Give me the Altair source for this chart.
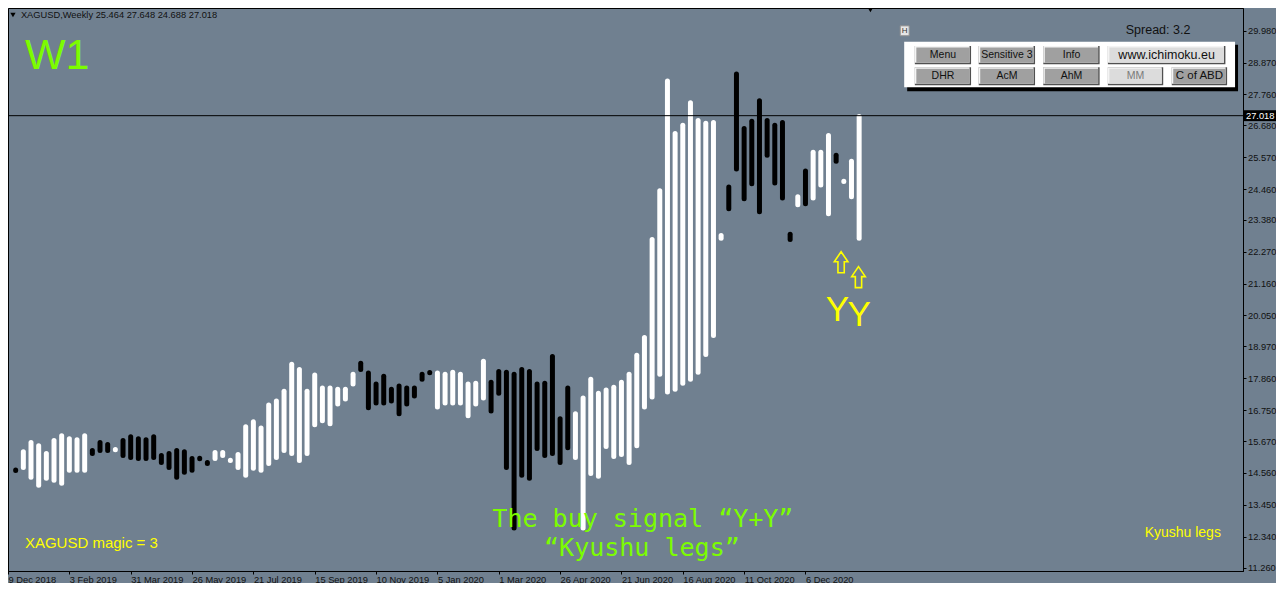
import altair as alt
import pandas as pd
from datetime import date

# ---------------- data ----------------
first_week = "2018-12-16"
n_weeks = 111
weeks = pd.date_range(first_week, periods=n_weeks, freq="7D").strftime("%Y-%m-%d").tolist()

ha_open = [
    14.66, 14.75, 14.41, 14.13, 14.37, 14.30, 14.20, 14.65, 14.65, 14.65,
    15.34, 15.62, 15.55, 15.37, 15.69, 15.82, 15.75, 15.72, 15.82, 15.17,
    15.24, 15.34, 15.30, 15.06, 15.07, 14.92, 15.06, 15.17, 14.99, 14.75,
    14.48, 14.72, 14.65, 14.89, 15.10, 15.34, 15.24, 14.99, 15.24, 16.24,
    16.38, 16.27, 16.96, 17.14, 17.66, 18.38, 18.04, 17.66, 17.93, 17.48,
    17.59, 17.52, 17.52, 18.00, 18.06, 16.86, 17.00, 17.00, 17.00, 16.55,
    16.96, 17.17, 17.72, 18.10, 18.07, 18.00, 18.17, 18.10, 17.66, 17.69,
    18.62, 16.45, 17.52, 15.10, 12.64, 14.54, 14.44, 15.48, 15.13, 15.20,
    14.92, 15.51, 16.86, 17.21, 18.00, 17.38, 17.48, 17.69, 17.83, 18.07,
    18.69, 19.35, 22.74, 24.53, 28.47, 26.57, 26.82, 27.54, 26.85, 26.68,
    26.78, 22.88, 23.91, 25.09, 24.15, 24.60, 23.60, 25.64, 24.72, 24.19,
    22.74,
]
ha_close = [
    14.64, 15.30, 15.62, 15.51, 15.24, 15.69, 15.86, 15.75, 15.72, 15.86,
    15.24, 15.34, 15.34, 15.38, 15.17, 15.10, 15.06, 15.06, 15.10, 14.92,
    14.75, 14.41, 14.58, 14.65, 15.05, 14.89, 15.27, 15.27, 15.00, 15.20,
    16.17, 16.34, 16.13, 16.93, 17.07, 17.41, 18.35, 18.17, 17.41, 17.97,
    17.52, 17.52, 17.48, 17.48, 18.00, 18.17, 16.83, 17.00, 17.00, 17.07,
    16.62, 16.96, 17.24, 17.83, 18.05, 18.04, 18.00, 18.07, 18.00, 17.66,
    17.69, 18.45, 16.72, 17.34, 14.75, 12.64, 14.48, 14.37, 15.41, 15.17,
    15.24, 14.92, 15.44, 16.62, 17.17, 17.83, 17.34, 17.45, 17.55, 17.72,
    18.00, 18.66, 19.28, 22.70, 24.40, 28.23, 26.40, 26.68, 27.47, 26.85,
    26.75, 26.78, 22.84, 23.77, 25.16, 24.12, 24.64, 23.67, 25.64, 24.67,
    24.15, 22.70, 24.19, 23.95, 25.74, 25.74, 26.33, 25.43, 24.73, 25.43,
    26.99,
]
last_price = [27.018]

date_ticks = ["2018-12-09", "2019-02-03", "2019-03-31", "2019-05-26", "2019-07-21",
              "2019-09-15", "2019-11-10", "2020-01-05", "2020-03-01", "2020-04-26",
              "2020-06-21", "2020-08-16", "2020-10-11", "2020-12-06"]
price_ticks = [29.98, 28.87, 27.76, 26.68, 25.57, 24.46, 23.38, 22.27, 21.16,
               20.05, 18.97, 17.86, 16.75, 15.67, 14.56, 13.45, 12.34, 11.26]

header_text = "XAGUSD,Weekly  25.464 27.648 24.688 27.018"

btn_labels = ["Menu", "Sensitive 3", "Info", "www.ichimoku.eu",
              "DHR", "AcM", "AhM", "MM", "C of ABD"]

# ---------------- layout / style ----------------
W, H = 1235, 563
SX, SY = W / 1243.0, H / 568.0      # layout constants below are in a 1243x568 frame
BG = "#708090"
GREEN = "#7CFC00"
YELLOW = "#FFFF00"


def PX(v):
    return v * SX


def PY(v):
    return v * SY


def dt(s, hours=0):
    d = date.fromisoformat(s)
    return alt.DateTime(year=d.year, month=d.month, date=d.day, hours=hours, utc=True)


x_scale = alt.Scale(type="utc", domain=[dt("2018-12-09"), dt("2022-01-09", 10)])
y_scale = alt.Scale(domain=[11.139, 30.773], nice=False, zero=False)

df = pd.DataFrame({"week": weeks, "open": ha_open, "close": ha_close})
df["dir"] = ["up" if c >= o else "down" for o, c in zip(ha_open, ha_close)]

one = pd.DataFrame({"a": [0]})

x_axis = alt.Axis(values=[dt(s) for s in date_ticks], format="%-d %b %Y",
                  labelAlign="left", labelBaseline="top", labelPadding=1,
                  labelFlush=False, labelOverlap=False, tickSize=3,
                  tickColor="black", domainColor="black", labelColor="#111111",
                  labelFont="Liberation Sans", labelFontSize=9.3, grid=False, title=None)
y_axis = alt.Axis(orient="right", values=price_ticks, format=".3f",
                  labelPadding=1.5, labelFlush=False, labelOverlap=False, tickSize=3,
                  tickColor="black", domainColor="black", labelColor="#111111",
                  labelFont="Liberation Sans", labelFontSize=9.3, grid=False, title=None)

last_df = pd.DataFrame({"price": last_price})

bars = alt.Chart(df).mark_rule(strokeWidth=5, strokeCap="round").encode(
    x=alt.X("week:T", scale=x_scale, axis=x_axis),
    y=alt.Y("open:Q", scale=y_scale, axis=y_axis),
    y2="close:Q",
    color=alt.Color("dir:N", scale=alt.Scale(domain=["up", "down"], range=["white", "black"]), legend=None),
)

hline = alt.Chart(last_df).mark_rule(color="black", strokeWidth=1).encode(
    y=alt.Y("price:Q", scale=y_scale, axis=y_axis))


def txt(s, x, y, size, color, font="Liberation Sans", align="left", baseline="alphabetic"):
    return alt.Chart(one).mark_text(text=s, align=align, baseline=baseline, fontSize=size,
                                    font=font, color=color).encode(x=alt.value(PX(x)), y=alt.value(PY(y)))


def box(x0, x1, y0, y1, color, stroke=None):
    kw = dict(color=color)
    if stroke:
        kw.update(stroke=stroke, strokeWidth=1)
    return alt.Chart(one).mark_rect(**kw).encode(
        x=alt.value(PX(x0)), x2=alt.value(PX(x1)), y=alt.value(PY(y0)), y2=alt.value(PY(y1)))


arrow_path = "M0,-1L0.65,-0.05L0.3,-0.05L0.3,1L-0.3,1L-0.3,-0.05L-0.65,-0.05Z"


def arrow(x, y):
    return alt.Chart(one).mark_point(shape=arrow_path, size=441, filled=False, color=YELLOW,
                                     strokeWidth=1.6, opacity=1).encode(x=alt.value(PX(x)), y=alt.value(PY(y)))


layers = [bars, hline]

# header
layers.append(alt.Chart(one).mark_point(shape="triangle-down", size=28, filled=True, color="black",
                                        opacity=1).encode(x=alt.value(PX(5)), y=alt.value(PY(7))))
layers.append(txt(header_text, 13, 7, 9.3, "#111111", baseline="middle"))
layers.append(alt.Chart(one).mark_point(shape="triangle-down", size=30, filled=True, color="black",
                                        opacity=1).encode(x=alt.value(PX(868)), y=alt.value(2)))
layers.append(txt("W1", 17, 62, 43, GREEN))

# annotations
layers.append(txt("The buy signal \u201cY+Y\u201d", 639, 524, 25, GREEN, font="DejaVu Sans Mono", align="center"))
layers.append(txt("\u201cKyushu legs\u201d", 638, 553, 25, GREEN, font="DejaVu Sans Mono", align="center"))
layers.append(txt("XAGUSD  magic = 3", 17, 545, 15, YELLOW))
layers.append(txt("Kyushu legs", 1144, 534, 14, YELLOW))
layers.append(arrow(838.5, 256.5))
layers.append(arrow(856, 271.5))
layers.append(txt("Y", 823, 316, 35, YELLOW))
layers.append(txt("Y", 845, 321, 35, YELLOW))

# panel
layers.append(txt("Spread: 3.2", 1125, 26, 12.5, "#111111"))
layers.append(box(898, 907, 18, 28, "#E6E6E6", stroke="#909090"))
layers.append(txt("H", 902.5, 23.5, 8, "#333333", align="center", baseline="middle"))
layers.append(box(905, 1238, 37, 84, "#000000"))
layers.append(box(902, 1235, 34, 80, "#FFFFFF"))

bx0 = [912.7, 977.0, 1042.0, 1107.0, 912.7, 977.0, 1042.0, 1107.0, 1171.3]
bx1 = [969.3, 1033.7, 1098.7, 1225.3, 969.3, 1033.7, 1098.7, 1162.7, 1227.0]
by0 = [38.3] * 4 + [59.7] * 5
by1 = [56.7] * 4 + [78.0] * 5
bfill = ["#A0A0A0", "#A0A0A0", "#A0A0A0", "#DCDCDC", "#A0A0A0", "#A0A0A0", "#A0A0A0", "#DCDCDC", "#A0A0A0"]
btext = ["#111111"] * 7 + ["#7A7A7A", "#111111"]
bsize = [10.5, 10.5, 10.5, 12.5, 10.5, 10.5, 10.5, 10.5, 11.5]
bdf = pd.DataFrame({"label": btn_labels,
                    "x0": [PX(v) for v in bx0], "x1": [PX(v) for v in bx1],
                    "y0": [PY(v) for v in by0], "y1": [PY(v) for v in by1],
                    "fill": bfill, "tc": btext, "fs": bsize})

px = lambda f: alt.X(f, type="quantitative", scale=None, axis=None)
py = lambda f: alt.Y(f, type="quantitative", scale=None, axis=None)

b_dark = alt.Chart(bdf).mark_rect(color="#505050").encode(x=px("x0"), x2="x1", y=py("y0"), y2="y1")
b_light = alt.Chart(bdf).transform_calculate(
    xa="datum.x1 - 1.5", ya="datum.y1 - 1.5").mark_rect(color="#F4F4F4").encode(
    x=px("x0"), x2="xa:Q", y=py("y0"), y2="ya:Q")
b_face = alt.Chart(bdf).transform_calculate(
    xa="datum.x0 + 1.5", xb="datum.x1 - 1.5", ya="datum.y0 + 1.5", yb="datum.y1 - 1.5").mark_rect().encode(
    x=px("xa"), x2="xb:Q", y=py("ya"), y2="yb:Q", color=alt.Color("fill:N", scale=None))
b_text = alt.Chart(bdf).transform_calculate(
    xm="(datum.x0 + datum.x1) / 2", ym="(datum.y0 + datum.y1) / 2").mark_text(
    font="Liberation Sans", baseline="middle", align="center").encode(
    x=px("xm"), y=py("ym"), text="label:N", color=alt.Color("tc:N", scale=None),
    size=alt.Size("fs:Q", scale=None))
layers += [b_dark, b_light, b_face, b_text]

# last price box on the axis
price_box = alt.Chart(last_df).transform_calculate(
    lo="datum.price - 0.19", hi="datum.price + 0.19").mark_rect(color="black").encode(
    x=alt.value(W + 1), x2=alt.value(W + 33), y=alt.Y("lo:Q", scale=y_scale, axis=y_axis), y2="hi:Q")
price_lbl = alt.Chart(last_df).mark_text(color="white", align="left", baseline="middle",
                                         font="Liberation Sans", fontSize=9.3).encode(
    x=alt.value(W + 3), y=alt.Y("price:Q", scale=y_scale, axis=y_axis),
    text=alt.Text("price:Q", format=".3f"))
layers += [price_box, price_lbl]

chart = alt.layer(*layers).properties(
    width=W, height=H, background=BG,
    padding={"left": 0, "top": 0, "right": 33, "bottom": 12},
    autosize=alt.AutoSizeParams(type="none"),
).configure_view(stroke="black", strokeWidth=1, fill=BG)

chart.save("out.html", embed_options={"renderer": "svg", "actions": False})
